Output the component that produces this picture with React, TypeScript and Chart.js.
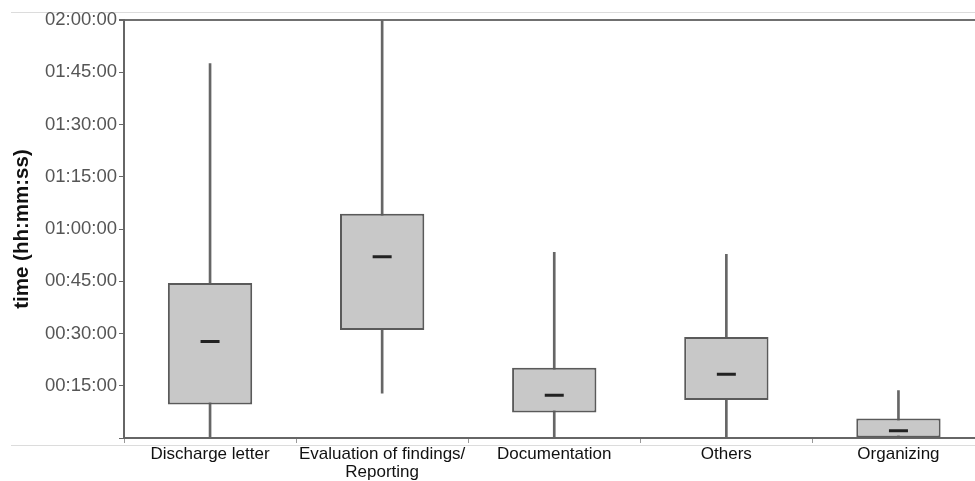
import React, { useEffect, useRef } from "react";
import { Chart, registerables } from "chart.js";

Chart.register(...registerables);

// Categories (multi-line labels as arrays)
const categories: string[][] = [
  ["Discharge letter"],
  ["Evaluation of findings/", "Reporting"],
  ["Documentation"],
  ["Others"],
  ["Organizing"],
];

// Box plot statistics, in minutes
const whiskerLow = [0, 12.9, 0, 0, 0];
const quartile1 = [9.6, 31, 7.3, 10.9, 0];
const medians = [27.7, 52, 12.3, 18.3, 2.1];
const quartile3 = [44.5, 64.4, 20.2, 29, 5.6];
const whiskerHigh = [107.5, 120, 53.3, 52.7, 13.6];

// Y axis ticks (minutes)
const yMin = 0;
const yMax = 120;
const yStep = 15;

const pad = (n: number) => String(n).padStart(2, "0");
const fmt = (minutes: number) => {
  const h = Math.floor(minutes / 60);
  const m = Math.round(minutes % 60);
  return `${pad(h)}:${pad(m)}:00`;
};

export default function App() {
  const ref = useRef<HTMLCanvasElement | null>(null);

  useEffect(() => {
    if (!ref.current) return;
    const chart = new Chart(ref.current, {
      type: "bar",
      data: {
        labels: categories,
        datasets: [
          {
            type: "line",
            label: "median",
            data: medians,
            showLine: false,
            pointStyle: "line",
            pointRadius: 9.5,
            pointHoverRadius: 9.5,
            pointBorderWidth: 3,
            borderColor: "#222",
            backgroundColor: "#222",
            order: 0,
          } as any,
          {
            type: "bar",
            label: "box",
            data: quartile1.map((v, i) => [v, quartile3[i]]),
            backgroundColor: "#c8c8c8",
            borderColor: "#5a5a5a",
            borderWidth: 2,
            borderSkipped: false,
            categoryPercentage: 1,
            barPercentage: 0.49,
            grouped: false,
            order: 1,
          } as any,
          {
            type: "bar",
            label: "whisker",
            data: whiskerLow.map((v, i) => [v, whiskerHigh[i]]),
            backgroundColor: "#666",
            borderWidth: 0,
            barThickness: 2,
            grouped: false,
            order: 2,
          } as any,
        ],
      },
      options: {
        animation: false,
        responsive: false,
        layout: { padding: { top: 20, right: 6, left: 0, bottom: 0 } },
        plugins: {
          legend: { display: false },
          tooltip: { enabled: false },
        },
        scales: {
          x: {
            offset: true,
            grid: {
              offset: true,
              drawOnChartArea: false,
              drawTicks: true,
              tickLength: 5,
              tickColor: "#999",
            },
            border: { display: true, color: "#666", width: 2 },
            ticks: {
              color: "#111",
              padding: 3,
              maxRotation: 0,
              autoSkip: false,
              font: { family: "'Liberation Sans', Arial, sans-serif", size: 17, lineHeight: 1.02 },
            },
            afterFit: (scale: any) => {
              scale.height = 43;
            },
          },
          y: {
            min: yMin,
            max: yMax,
            ticks: {
              stepSize: yStep,
              color: "#555",
              padding: 2,
              font: { family: "'Liberation Sans', Arial, sans-serif", size: 18.5 },
              callback: (v: any) => (Number(v) === 0 ? "" : fmt(Number(v))),
            },
            grid: {
              drawOnChartArea: true,
              drawTicks: true,
              tickLength: 5,
              tickColor: "#666",
              color: (ctx: any) => (ctx.tick && ctx.tick.value === yMax ? "#707070" : "rgba(0,0,0,0)"),
              lineWidth: (ctx: any) => (ctx.tick && ctx.tick.value === yMax ? 2 : 1),
            },
            border: { display: true, color: "#666", width: 2 },
            title: {
              display: true,
              text: "time (hh:mm:ss)",
              color: "#111",
              padding: { top: 10, bottom: 0 },
              font: { family: "'Liberation Sans', Arial, sans-serif", size: 20.5, weight: "bold" },
            },
            afterFit: (scale: any) => {
              scale.width = 124;
            },
          },
        },
      } as any,
    });
    return () => chart.destroy();
  }, []);

  return (
    <div
      style={{
        position: "fixed",
        left: 0,
        top: 0,
        width: 975,
        height: 481,
        overflow: "hidden",
        background: "#fff",
      }}
    >
      <div style={{ position: "absolute", left: 11, top: 12, width: 964, height: 1, background: "#dcdcdc" }} />
      <div style={{ position: "absolute", left: 11, top: 445, width: 964, height: 1, background: "#dcdcdc" }} />
      <canvas ref={ref} width={997} height={481} style={{ display: "block", position: "absolute", left: 0, top: 0 }} />
    </div>
  );
}
